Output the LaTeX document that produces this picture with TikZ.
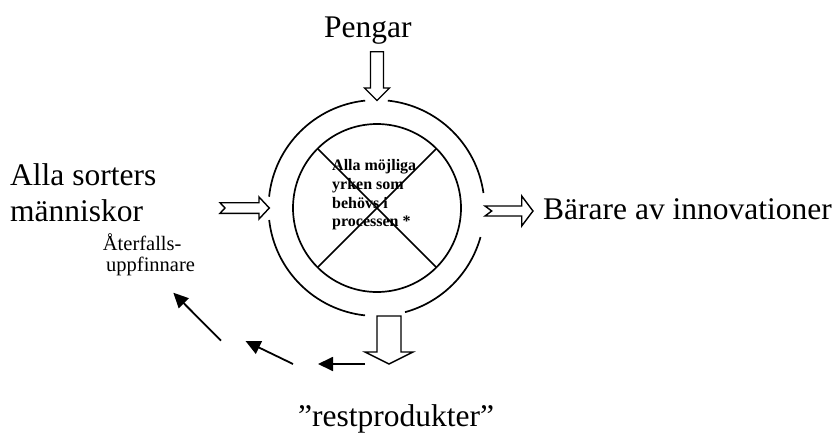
\documentclass[tikz,border=0pt]{standalone}
\usepackage{fontspec}
\setmainfont{Liberation Serif}
\usetikzlibrary{arrows.meta}
\begin{document}
\begin{tikzpicture}[x=1pt,y=-1pt,line join=miter,
  big/.style={font=\fontsize{31.5}{36}\selectfont,inner sep=0pt,anchor=base west},
  small/.style={font=\fontsize{20.5}{22}\selectfont,inner sep=0pt,anchor=base west},
  bold/.style={font=\fontsize{16}{19}\selectfont\bfseries,inner sep=0pt,anchor=base west},
  ring/.style={line width=1.7pt},
  hollow/.style={line width=1.4pt,fill=white},
  flow/.style={line width=1.8pt,-{Triangle[length=15pt,width=14pt]}}]
\useasboundingbox (0,0) rectangle (839,434);

% outer ring, open where the arrows pass
\coordinate (c) at (376.5,208);
\draw[ring] ([shift={(96:108pt)}]c) arc[start angle=96,end angle=174,radius=108pt];
\draw[ring] ([shift={(186.4:108pt)}]c) arc[start angle=186.4,end angle=263.9,radius=108pt];
\draw[ring] ([shift={(285.3:108pt)}]c) arc[start angle=285.3,end angle=344.4,radius=108pt];
\draw[ring] ([shift={(8:108pt)}]c) arc[start angle=8,end angle=84,radius=108pt];

% inner circle with its cross
\node[draw,ring,circle,minimum size=168pt,inner sep=0pt] (inner) at (377,208) {};
\coordinate (ul) at (317.6,148.6);
\coordinate (ur) at (436.4,148.6);
\coordinate (ll) at (317.6,267.4);
\coordinate (lr) at (436.4,267.4);
\draw[ring] (ul) -- (lr);
\draw[ring] (ur) -- (ll);

\node[bold] (t1) at (332,170) {Alla möjliga};
\node[bold] (t2) at (332,189.3) {yrken som};
\node[bold] (t3) at (332,208.3) {behövs i};
\node[bold] (t4) at (332,226.7) {processen *};

% hollow block arrows
\draw[hollow] (370.5,51.7) -- (383.5,51.7) -- (383.5,88) -- (389.5,88) -- (377,100.5)
  -- (364.5,88) -- (370.5,88) -- cycle;
\draw[hollow] (377,316) -- (401,316) -- (401,352) -- (413,352) -- (389,364)
  -- (365,352) -- (377,352) -- cycle;
\draw[hollow] (220,202.7) -- (259,202.7) -- (259,197) -- (269.3,208) -- (259,219)
  -- (259,213.3) -- (220,213.3) -- (225,208) -- cycle;
\draw[hollow] (485,206) -- (521.7,206) -- (521.7,196) -- (533,211) -- (521.7,226)
  -- (521.7,216) -- (485,216) -- (491.7,211) -- cycle;

% labels
\node[big] (pengar) at (324,37) {Pengar};
\node[big] (alla) at (10,185) {Alla sorters};
\node[big] (mann) at (10,221.5) {människor};
\node[big] (barare) at (543,219) {Bärare av innovationer};
\node[big] (rest) at (298,426) {”restprodukter”};
\node[small] (aterf) at (102.7,250) {Återfalls-};
\node[small] (uppf) at (106,271.7) {uppfinnare};

% return path of the leftovers
\coordinate (r1s) at (365,364);
\coordinate (r1e) at (318,364);
\coordinate (r2s) at (293,364);
\coordinate (r2e) at (245.5,341);
\coordinate (r3s) at (221,340.7);
\coordinate (r3e) at (173.3,292.7);
\draw[flow] (r1s) -- (r1e);
\draw[flow] (r2s) -- (r2e);
\draw[flow] (r3s) -- (r3e);
\end{tikzpicture}
\end{document}
